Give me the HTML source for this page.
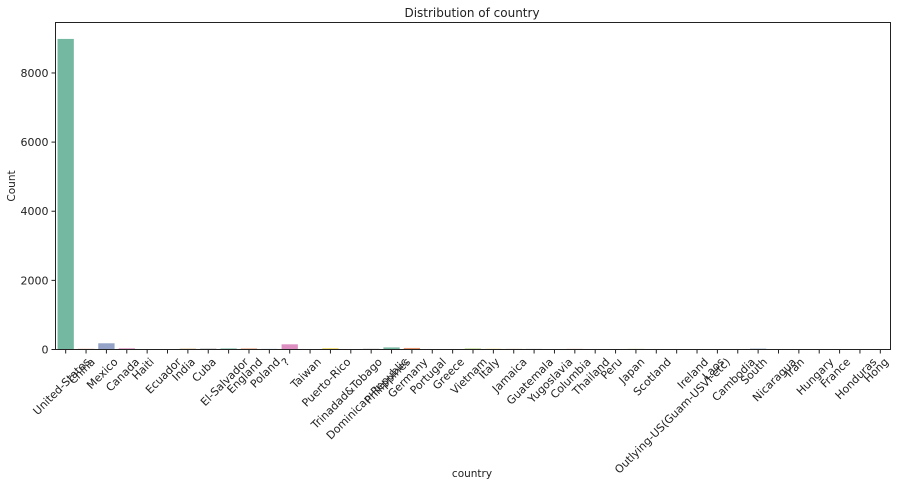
<!DOCTYPE html>
<html><head><meta charset="utf-8"><style>
body{margin:0;background:#fff;font-family:"Liberation Sans","DejaVu Sans",sans-serif}
svg text{font-family:"DejaVu Sans","Liberation Sans",sans-serif;fill:#222}
</style></head><body>
<svg id="chart" width="900" height="486">
<rect x="0" y="0" width="900" height="486" fill="#fff"/>
<text x="472" y="17" font-size="12" text-anchor="middle">Distribution of country</text>
<text x="472" y="477" font-size="10.5" text-anchor="middle">country</text>
<text transform="translate(15,186) rotate(-90)" font-size="10.5" text-anchor="middle">Count</text>
<g id="bars"></g><g id="xt"></g><g id="yt"></g>
<rect x="55.5" y="22.5" width="835" height="327" fill="none" stroke="#222" stroke-width="1"/>
</svg>
<script>
const categories=["United-States","China","Mexico","Canada","Haiti","Ecuador","India","Cuba","El-Salvador","England","Poland","?","Taiwan","Puerto-Rico","Trinadad&Tobago","Dominican-Republic","Philippines","Germany","Portugal","Greece","Vietnam","Italy","Jamaica","Guatemala","Yugoslavia","Columbia","Thailand","Peru","Japan","Scotland","Outlying-US(Guam-USVI-etc)","Ireland","Laos","Cambodia","South","Nicaragua","Iran","Hungary","France","Honduras","Hong"];
const counts=[8985,20,180,35,12,10,30,28,30,30,18,150,14,35,6,22,60,45,12,10,28,20,20,18,6,18,6,10,18,4,2,8,6,6,25,10,12,4,8,4,6];
const yTicks=[0,2000,4000,6000,8000];
const colors=["#74b8a1","#e8956f","#93a2c6","#dc8fc0","#a6cc62","#f0d54c","#dfc69c","#b3b3b3"];
const NS="http://www.w3.org/2000/svg";
const X0=55.5,X1=890.5,Y0=349.5,YMAX=9460,PT=22.5;
const step=(X1-X0)/categories.length;
const xc=i=>X0+step*(i+0.5);
const ys=v=>Y0-(v/YMAX)*(Y0-PT);
const bars=document.getElementById('bars'),xt=document.getElementById('xt'),yt=document.getElementById('yt');
categories.forEach((c,i)=>{
  const r=document.createElementNS(NS,'rect');
  
  
  const bw=step*0.8;
  r.setAttribute('x',xc(i)-bw/2);r.setAttribute('width',bw);
  r.setAttribute('y',ys(counts[i]));r.setAttribute('height',Y0-ys(counts[i]));
  r.setAttribute('fill',colors[i%8]);bars.appendChild(r);
  const tk=document.createElementNS(NS,'line');
  
  
  tk.setAttribute('x1',xc(i));tk.setAttribute('x2',xc(i));tk.setAttribute('y1',Y0);tk.setAttribute('y2',Y0+4);
  tk.setAttribute('stroke','#222');xt.appendChild(tk);
  const t=document.createElementNS(NS,'text');
  
  
  t.setAttribute('font-size','11');t.setAttribute('text-anchor','middle');t.setAttribute('dominant-baseline','central');
  t.textContent=c;xt.appendChild(t);
  const L=t.getComputedTextLength();const h=13;
  const H=(L+h)*0.7071;
  t.setAttribute('transform','translate('+(xc(i)-4)+','+(Y0+6+H/2)+') rotate(-45)');
});
yTicks.forEach(v=>{
  const tk=document.createElementNS(NS,'line');
  
  
  tk.setAttribute('x1',X0-4);tk.setAttribute('x2',X0);tk.setAttribute('y1',ys(v));tk.setAttribute('y2',ys(v));
  tk.setAttribute('stroke','#222');yt.appendChild(tk);
  const t=document.createElementNS(NS,'text');
  
  
  t.setAttribute('x',X0-7);t.setAttribute('y',ys(v)+4);t.setAttribute('font-size','11');t.setAttribute('text-anchor','end');
  t.textContent=v;yt.appendChild(t);
});
</script>
</body></html>
